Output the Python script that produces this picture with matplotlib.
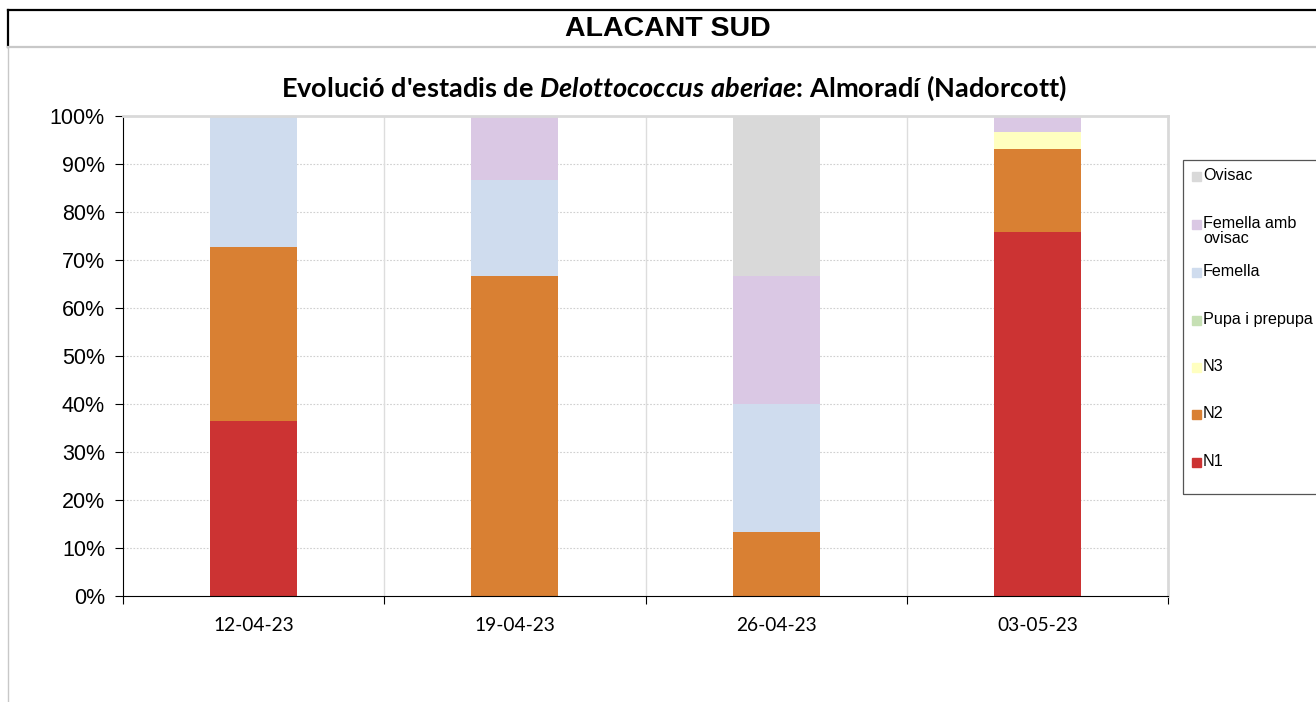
import matplotlib
matplotlib.use("Agg")
import matplotlib.pyplot as plt
from matplotlib.patches import Rectangle
from matplotlib.lines import Line2D
import numpy as np

dates = ["12-04-23", "19-04-23", "26-04-23", "03-05-23"]
stages = ["N1", "N2", "N3", "Pupa i prepupa", "Femella", "Femella amb\novisac", "Ovisac"]
n1 = [36.4, 0.0, 0.0, 75.9]
n2 = [36.3, 66.7, 13.3, 17.2]
n3 = [0.0, 0.0, 0.0, 3.5]
pupa = [0.0, 0.0, 0.0, 0.0]
femella = [27.3, 20.0, 26.7, 0.0]
femella_ovisac = [0.0, 13.3, 26.7, 3.4]
ovisac = [0.0, 0.0, 33.3, 0.0]
stage_colors = ["#CC3333", "#D98033", "#FFFFC0", "#C6E0B4", "#CFDCEE", "#DAC8E4", "#D9D9D9"]
species = "Delottococcus aberiae"
chart_title = "Evolució d'estadis de $\\mathit{%s}$: Almoradí (Nadorcott)" % species.replace(" ", "\\ ")

plt.rcParams["mathtext.fontset"] = "custom"
plt.rcParams["mathtext.it"] = "Lato:italic:bold"
plt.rcParams["mathtext.rm"] = "Lato:bold"

W, H = 1316, 702
fig = plt.figure(figsize=(W / 100, H / 100), dpi=100)

# outer frame
fig.add_artist(Line2D([8 / W, 1], [1 - 10 / H, 1 - 10 / H], color="black", lw=1.6))
fig.add_artist(Line2D([8 / W, 8 / W], [1 - 10 / H, 1 - 47 / H], color="black", lw=1.6))
fig.add_artist(Line2D([8 / W, 1], [1 - 47 / H, 1 - 47 / H], color="#C8C8C8", lw=1.6))
fig.add_artist(Line2D([8 / W, 8 / W], [1 - 47 / H, 0], color="#C8C8C8", lw=1.0))
fig.text(668 / W, 1 - 29 / H, "ALACANT SUD", ha="center", va="center",
         fontsize=20.5, fontweight="bold", family="Liberation Sans")

fig.text(674 / W, 1 - 88 / H, chart_title, ha="center", va="center", fontsize=19.5,
         fontweight="bold", family="Lato")

ax = fig.add_axes((123 / W, 1 - 596 / H, (1168 - 123) / W, (596 - 116) / H))
series = [n1, n2, n3, pupa, femella, femella_ovisac, ovisac]
x = np.arange(len(dates)) + 0.5
bottom = np.zeros(len(dates))
for vals, col in zip(series, stage_colors):
    ax.bar(x, vals, width=1 / 3, bottom=bottom, color=col, zorder=2)
    bottom += np.array(vals)

ax.set_xlim(0, len(dates))
ax.set_ylim(0, 100)
ax.set_yticks(np.arange(0, 101, 10))
ax.set_yticklabels([f"{v}%" for v in range(0, 101, 10)], family="Liberation Sans", fontsize=15.5)
ax.set_xticks(np.arange(len(dates) + 1))
ax.set_xticklabels([])
ax.set_xticks(x, minor=True)
ax.set_xticklabels(dates, minor=True, family="Lato", fontsize=13.8)
ax.tick_params(axis="x", which="minor", length=0, pad=15)
ax.tick_params(axis="x", which="major", length=6, direction="out", color="black")
ax.tick_params(axis="y", length=6, direction="out", color="black", pad=7)
for v in range(10, 100, 10):
    ax.axhline(v, color="#D0D0D0", lw=0.8, ls=(0, (1.5, 1.5)), zorder=1)
for k in range(1, len(dates)):
    ax.axvline(k, color="#DDDDDD", lw=1.0, zorder=1)
ax.spines["left"].set_color("black")
ax.spines["bottom"].set_color("black")
ax.spines["top"].set_color("#D9D9D9")
ax.spines["right"].set_color("#D9D9D9")
ax.spines["top"].set_linewidth(2.0)
ax.spines["right"].set_linewidth(2.0)

# legend (manual, Excel style)
lx0, ly0, ly1 = 1183, 160, 494
fig.add_artist(Rectangle((lx0 / W, 1 - ly1 / H), (W + 5 - lx0) / W, (ly1 - ly0) / H,
                         fill=False, ec="#555555", lw=0.9, transform=fig.transFigure))
label_y = [176, 224, 272, 320, 367, 414, 462]
for lab, col, yy in zip(stages[::-1], stage_colors[::-1], label_y):
    fig.add_artist(Rectangle((1192 / W, 1 - (yy + 4.5) / H), 9 / W, 9 / H, color=col,
                             transform=fig.transFigure))
    fig.text(1203 / W, 1 - (yy - 8) / H, lab, ha="left", va="top", fontsize=11.6,
             family="Liberation Sans", linespacing=1.0)

fig.savefig("out.png", dpi=100)
